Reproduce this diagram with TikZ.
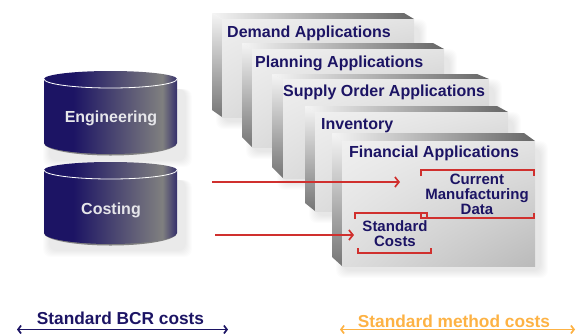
\documentclass[tikz,border=0pt]{standalone}
\usepackage{fontspec}
\setmainfont{Liberation Sans}
\usepackage{tikz}
\usetikzlibrary{arrows.meta,shadings}

\definecolor{darknavy}{HTML}{1C1464}
\definecolor{linkred}{HTML}{D0302E}
\definecolor{methodorange}{HTML}{FDB244}
\definecolor{labelwhite}{HTML}{E6E6EA}

\pgfdeclarehorizontalshading{cylshade}{100bp}{color(0bp)=(darknavy); color(36bp)=(darknavy); color(69.5bp)=(gray); color(75bp)=(darknavy!75!gray); color(100bp)=(darknavy!75!gray)}

\tikzset{
  title/.style={font=\bfseries\fontsize{16}{18}\selectfont,text=darknavy,anchor=west,inner sep=0pt},
  inner/.style={font=\bfseries\fontsize{15}{15}\selectfont,text=darknavy,align=center,inner sep=0pt},
  dbtext/.style={font=\bfseries\fontsize{16}{18}\selectfont,text=labelwhite,inner sep=0pt},
  spantext/.style={font=\bfseries\fontsize{17.3}{18}\selectfont,inner sep=0pt},
  bracket/.style={linkred,line width=1.7pt},
  link/.style={linkred,line width=1.7pt,-{Straight Barb[length=4pt,width=10pt]}},
  span/.style={line width=1.7pt,{Straight Barb[length=3pt,width=8pt]}-{Straight Barb[length=3pt,width=8pt]}}
}

\begin{document}
\begin{tikzpicture}[x=1pt,y=-1pt]
\useasboundingbox (0,0) rectangle (576,333);

% databases
\foreach \ytop/\ybot in {79/143,170/233} {
  \foreach \s in {1,...,7} \fill [black,opacity=0.012,rounded corners=8pt] (50-\s,\ytop+10) rectangle (185+\s,\ybot+17+\s);
  \fill [gray] (44,\ybot) arc [x radius=66.5,y radius=12.5,start angle=180,end angle=0] -- cycle;
  \path [shading=cylshade] (44,\ytop) arc [x radius=66.5,y radius=8,start angle=180,end angle=360]
    -- (177,\ybot) arc [x radius=66.5,y radius=11,start angle=0,end angle=180] -- cycle;
  \draw [white,thick] (44,\ytop) arc [x radius=66.5,y radius=9,start angle=180,end angle=0];
}
\node [dbtext] (engineering) at (111,118) {Engineering};
\node [dbtext] (costing) at (111,210) {Costing};

% stacked application boxes, back to front
\foreach \bl/\bt/\br/\bb/\fl/\ft/\fr/\fb in {
  212/13/404/110/222/19/414/117,
  242/43/433/137/252/49/444/147,
  272/74/477/167/283/79/489/178,
  305/106/497/203/315/112/508/211,
  332/133/524/257/342/141/535/266} {
  \foreach \s in {1,...,8} \fill [black,opacity=0.012,rounded corners=8pt] (\fl+2-\s,\ft+8-\s) rectangle (\fr+5+\s,\fb+4+\s);
  \shade [top color=gray!8,bottom color=gray!92!black] (\bl,\bt) -- (\fl,\ft) -- (\fl,\fb) -- (\bl,\bb) -- cycle;
  \shade [left color=gray!8,right color=black!60] (\bl,\bt) -- (\br,\bt) -- (\fr,\ft) -- (\fl,\ft) -- cycle;
  \shade [upper left=black!6,upper right=black!11,lower left=black!13,lower right=black!27] (\fl,\ft) rectangle (\fr,\fb);
}

\node [title] (demand) at (227,33) {Demand Applications};
\node [title] (planning) at (255,63) {Planning Applications};
\node [title] (supply) at (283,92) {Supply Order Applications};
\node [title] (inventory) at (321,126) {Inventory};
\node [title] (financial) at (349,153) {Financial Applications};

\node [inner] (current) at (477,194) {Current\\Manufacturing\\Data};
\node [inner] (standard) at (395,234) {Standard\\Costs};

\draw [bracket] (421,176) -- (421,170) -- (534,170) -- (534,176);
\draw [bracket] (421,213) -- (421,218) -- (534,218) -- (534,213);
\draw [bracket] (355,219) -- (355,213) -- (427,213) -- (427,219);
\draw [bracket] (358,248) -- (358,253) -- (431,253) -- (431,248);

% links into the front box
\coordinate (enginelink) at (212,182); \coordinate (currentlink) at (400,182);
\coordinate (costlink) at (215,235); \coordinate (standardlink) at (354,235);
\draw [link] (enginelink) -- (currentlink);
\draw [link] (costlink) -- (standardlink);

% spans along the bottom
\node [spantext,text=darknavy] (bcrcosts) at (120.5,318) {Standard BCR costs};
\node [spantext,text=methodorange] (methodcosts) at (454,321) {Standard method costs};
\coordinate (bcrleft) at (17,329.5); \coordinate (bcrright) at (228,329.5);
\coordinate (methodleft) at (340,329.5); \coordinate (methodright) at (575,329.5);
\draw [span,darknavy] (bcrleft) -- (bcrright);
\draw [span,methodorange] (methodleft) -- (methodright);

\end{tikzpicture}
\end{document}
